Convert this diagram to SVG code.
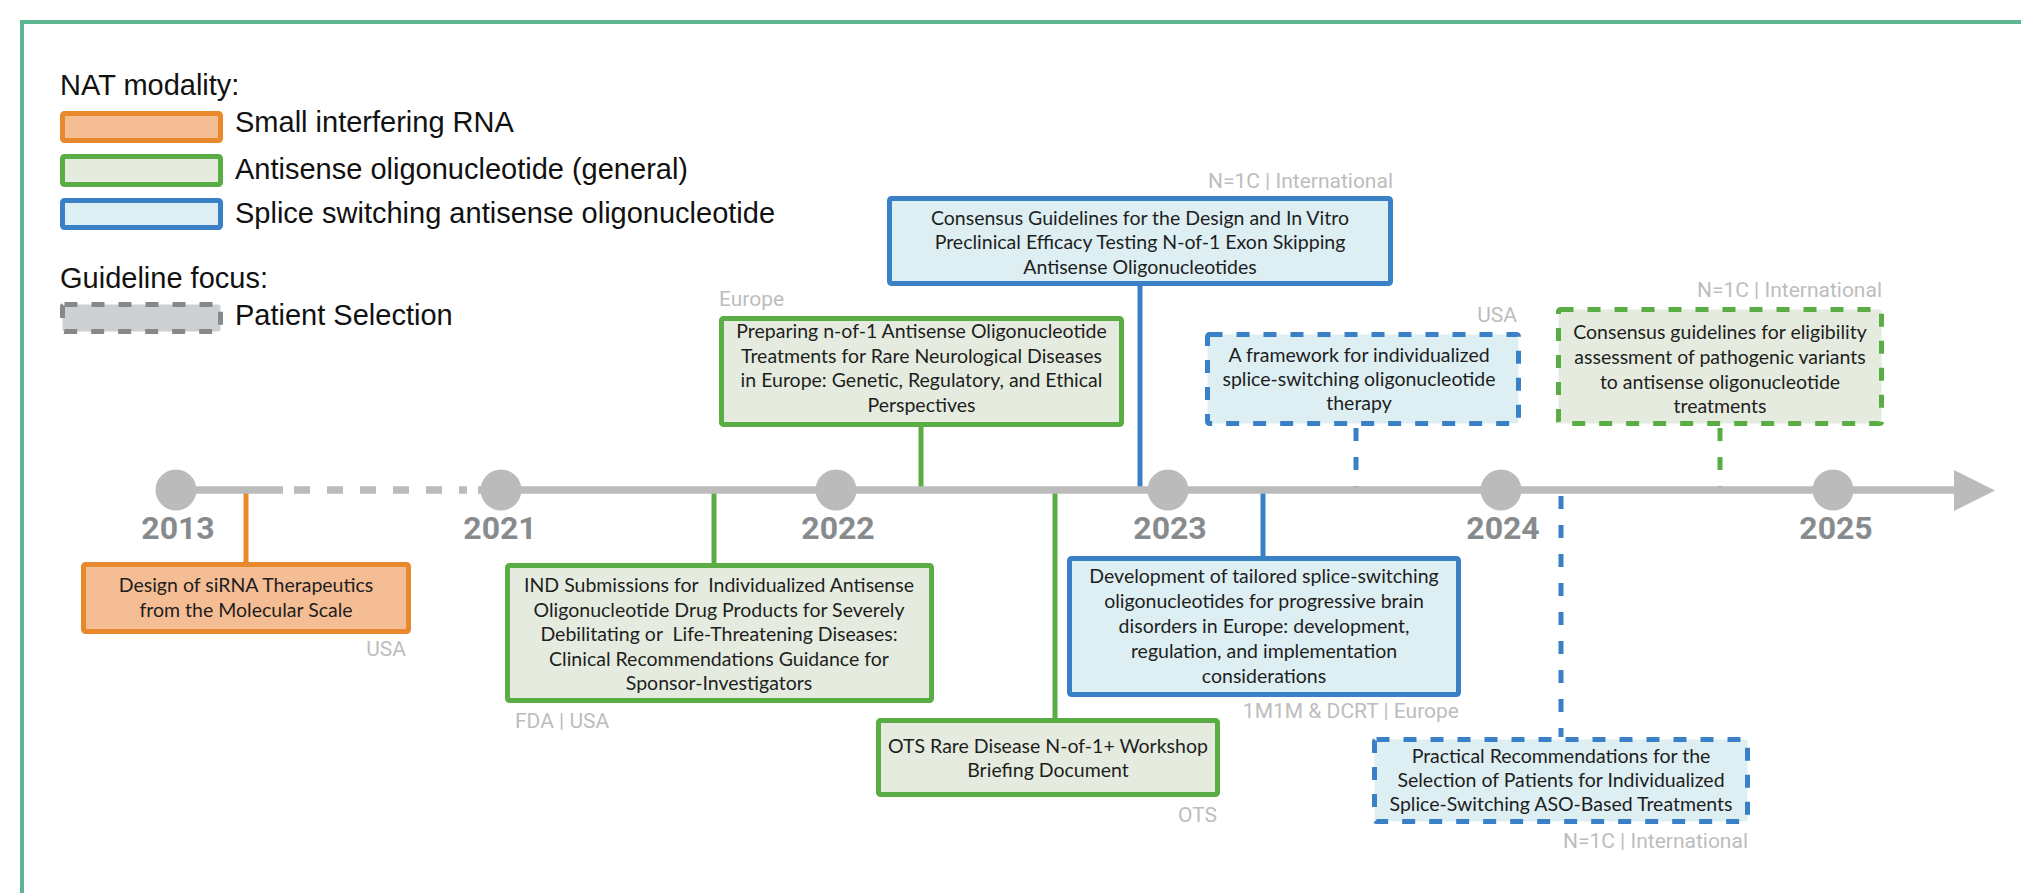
<svg xmlns="http://www.w3.org/2000/svg" width="2021" height="893" viewBox="0 0 2021 893">
<style>
.box{stroke-width:5;stroke-linejoin:round}
.o{fill:#f5bd93;stroke:#e8892e}
.g{fill:#e5ecdf;stroke:#5aad45}
.b{fill:#ddeff3;stroke:#3a80c6}
.dash{stroke-dasharray:13 14}
.t{font-family:Lato,"Open Sans",sans-serif;font-size:19.5px;fill:#1e1e1e;text-anchor:middle;white-space:pre}
.lab{font-family:Roboto,"Liberation Sans",sans-serif;font-size:21px;fill:#bdbdbd}
.end{text-anchor:end}
.yr{font-family:Roboto,"Liberation Sans",sans-serif;font-size:32px;font-weight:bold;fill:#878b8e;text-anchor:middle}
.leg{font-family:"Liberation Sans",Arial,sans-serif;font-size:29px;fill:#111}
.c{fill:none;stroke-width:5}
.co{stroke:#e8892e}
.cg{stroke:#5aad45}
.cb{stroke:#3a80c6}
.cd{stroke-dasharray:13 16}
</style>
<rect x="0" y="0" width="2021" height="893" fill="#ffffff"/>
<rect id="frame" x="22" y="22" width="2100" height="1000" fill="none" stroke="#5db592" stroke-width="4"/>

<g id="legend">
<text class="leg" x="60" y="95">NAT modality:</text>
<rect class="box o" x="62.5" y="113.5" width="158" height="27" rx="2"/>
<text class="leg" x="235" y="132">Small interfering RNA</text>
<rect class="box g" x="62.5" y="156.5" width="158" height="28" rx="2"/>
<text class="leg" x="235" y="179">Antisense oligonucleotide (general)</text>
<rect class="box b" x="62.5" y="200.5" width="158" height="27" rx="2"/>
<text class="leg" x="235" y="223">Splice switching antisense oligonucleotide</text>
<text class="leg" x="60" y="288">Guideline focus:</text>
<rect x="62.5" y="304.5" width="158" height="27" rx="2" fill="#cdd0d3" stroke="#888888" stroke-width="5" stroke-dasharray="13 14"/>
<text class="leg" x="235" y="325">Patient Selection</text>
</g>

<g id="connectors">
<line class="c co" x1="246" y1="490" x2="246" y2="563"/>
<line class="c cg" x1="714" y1="490" x2="714" y2="564"/>
<line class="c cg" x1="921" y1="426" x2="921" y2="490"/>
<line class="c cb" x1="1140" y1="285" x2="1140" y2="490"/>
<line class="c cb cd" x1="1356" y1="428" x2="1356" y2="490"/>
<line class="c cg cd" x1="1720" y1="428" x2="1720" y2="490"/>
<line class="c cg" x1="1055" y1="490" x2="1055" y2="719"/>
<line class="c cb" x1="1263" y1="490" x2="1263" y2="557"/>
<line class="c cb cd" x1="1561" y1="496" x2="1561" y2="737"/>
</g>

<g id="timeline">
<line x1="176" y1="490" x2="283" y2="490" stroke="#bbbbbb" stroke-width="7.5"/>
<line x1="294" y1="490" x2="467" y2="490" stroke="#bbbbbb" stroke-width="7.5" stroke-dasharray="16 17"/>
<line x1="478" y1="490" x2="1956" y2="490" stroke="#bbbbbb" stroke-width="7.5"/>
<polygon points="1954,470 1995,490.5 1954,511" fill="#bbbbbb"/>
<circle cx="176" cy="490" r="20.5" fill="#bbbbbb"/>
<circle cx="501" cy="490" r="20.5" fill="#bbbbbb"/>
<circle cx="836" cy="490" r="20.5" fill="#bbbbbb"/>
<circle cx="1168" cy="490" r="20.5" fill="#bbbbbb"/>
<circle cx="1501" cy="490" r="20.5" fill="#bbbbbb"/>
<circle cx="1833" cy="490" r="20.5" fill="#bbbbbb"/>
<text class="yr" x="178" y="539">2013</text>
<text class="yr" x="500" y="539">2021</text>
<text class="yr" x="838" y="539">2022</text>
<text class="yr" x="1170" y="539">2023</text>
<text class="yr" x="1503" y="539">2024</text>
<text class="yr" x="1836" y="539">2025</text>
</g>

<g id="node-siRNA">
<rect class="box o" x="83.5" y="564.5" width="325" height="67" rx="2"/>
<text class="t" x="246" y="592">Design of siRNA Therapeutics</text>
<text class="t" x="246" y="617">from the Molecular Scale</text>
<text class="lab end" x="406" y="656">USA</text>
</g>

<g id="node-IND">
<rect class="box g" x="507.5" y="565.5" width="424" height="135" rx="2"/>
<text class="t" x="719" y="592">IND Submissions for  Individualized Antisense</text>
<text class="t" x="719" y="617">Oligonucleotide Drug Products for Severely</text>
<text class="t" x="719" y="641">Debilitating or  Life-Threatening Diseases:</text>
<text class="t" x="719" y="666">Clinical Recommendations Guidance for</text>
<text class="t" x="719" y="690">Sponsor-Investigators</text>
<text class="lab" x="515" y="728">FDA | USA</text>
</g>

<g id="node-preparing">
<rect class="box g" x="721.5" y="318.5" width="400" height="106" rx="2"/>
<text class="t" x="921.5" y="338">Preparing n-of-1 Antisense Oligonucleotide</text>
<text class="t" x="921.5" y="363">Treatments for Rare Neurological Diseases</text>
<text class="t" x="921.5" y="387">in Europe: Genetic, Regulatory, and Ethical</text>
<text class="t" x="921.5" y="412">Perspectives</text>
<text class="lab" x="719" y="306">Europe</text>
</g>

<g id="node-consensus-design">
<rect class="box b" x="889.5" y="198.5" width="501" height="85" rx="2"/>
<text class="t" x="1140" y="225">Consensus Guidelines for the Design and In Vitro</text>
<text class="t" x="1140" y="249">Preclinical Efficacy Testing N-of-1 Exon Skipping</text>
<text class="t" x="1140" y="274">Antisense Oligonucleotides</text>
<text class="lab end" x="1393" y="188">N=1C | International</text>
</g>

<g id="node-framework">
<rect class="box b dash" x="1207.5" y="334.5" width="311" height="89" rx="2"/>
<text class="t" x="1359" y="362">A framework for individualized</text>
<text class="t" x="1359" y="386">splice-switching oligonucleotide</text>
<text class="t" x="1359" y="410">therapy</text>
<text class="lab end" x="1517" y="322">USA</text>
</g>

<g id="node-eligibility">
<rect class="box g dash" x="1558.5" y="309.5" width="323" height="114" rx="2"/>
<text class="t" x="1720" y="339">Consensus guidelines for eligibility</text>
<text class="t" x="1720" y="364">assessment of pathogenic variants</text>
<text class="t" x="1720" y="389">to antisense oligonucleotide</text>
<text class="t" x="1720" y="413">treatments</text>
<text class="lab end" x="1882" y="297">N=1C | International</text>
</g>

<g id="node-OTS">
<rect class="box g" x="878.5" y="720.5" width="339" height="74" rx="2"/>
<text class="t" x="1048" y="753">OTS Rare Disease N-of-1+ Workshop</text>
<text class="t" x="1048" y="777">Briefing Document</text>
<text class="lab end" x="1217" y="822">OTS</text>
</g>

<g id="node-development">
<rect class="box b" x="1069.5" y="558.5" width="389" height="136" rx="2"/>
<text class="t" x="1264" y="583">Development of tailored splice-switching</text>
<text class="t" x="1264" y="608">oligonucleotides for progressive brain</text>
<text class="t" x="1264" y="633">disorders in Europe: development,</text>
<text class="t" x="1264" y="658">regulation, and implementation</text>
<text class="t" x="1264" y="683">considerations</text>
<text class="lab end" x="1459" y="718">1M1M &amp; DCRT | Europe</text>
</g>

<g id="node-practical">
<rect class="box b dash" x="1374.5" y="739.5" width="373" height="82" rx="2"/>
<text class="t" x="1561" y="763">Practical Recommendations for the</text>
<text class="t" x="1561" y="787">Selection of Patients for Individualized</text>
<text class="t" x="1561" y="811">Splice-Switching ASO-Based Treatments</text>
<text class="lab end" x="1748" y="848">N=1C | International</text>
</g>
</svg>
